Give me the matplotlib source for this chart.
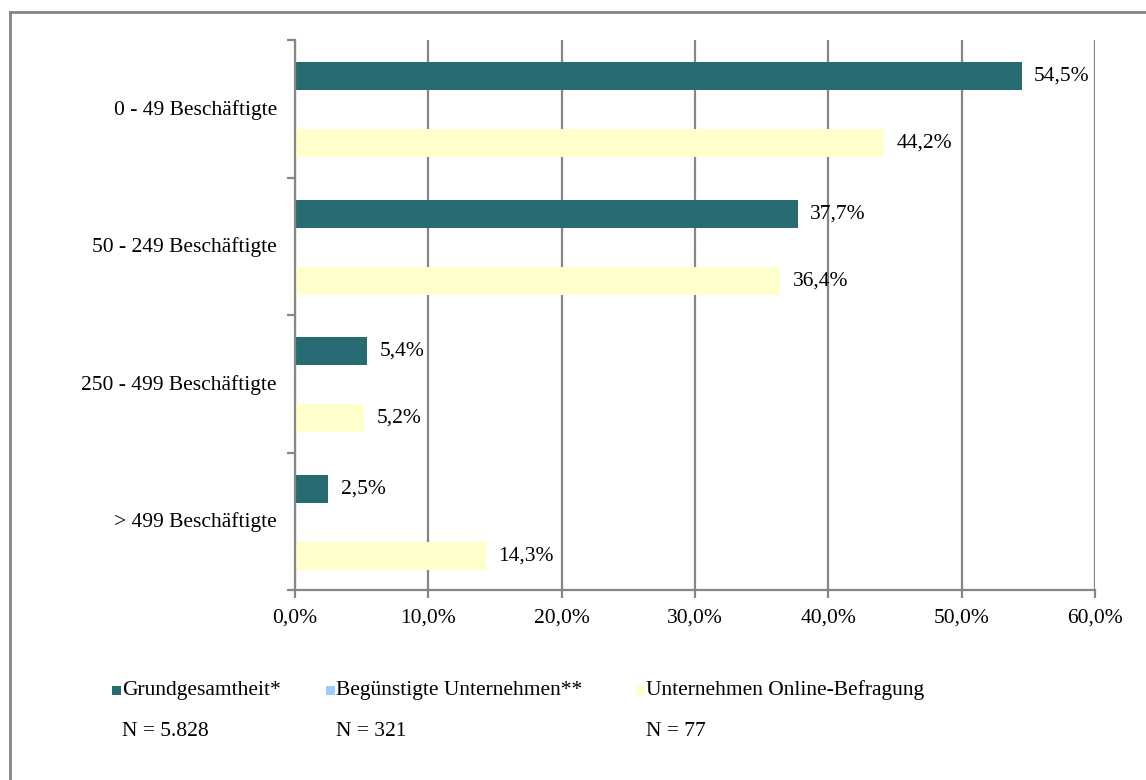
import matplotlib
matplotlib.use("Agg")
import matplotlib.pyplot as plt
from matplotlib.patches import Rectangle
from matplotlib.ticker import MultipleLocator, FuncFormatter, FixedLocator

plt.rcParams['font.family'] = ['Liberation Serif', 'DejaVu Serif']

categories = ["0 - 49 Beschäftigte", "50 - 249 Beschäftigte",
              "250 - 499 Beschäftigte", "> 499 Beschäftigte"]
grundgesamtheit = [54.5, 37.7, 5.4, 2.5]
online_befragung = [44.2, 36.4, 5.2, 14.3]

series_names = ["Grundgesamtheit*", "Begünstigte Unternehmen**", "Unternehmen Online-Befragung"]
series_n = ["N = 5.828", "N = 321", "N = 77"]
series_colors = ["#276C72", "#99CCFF", "#FFFFCC"]

W, H = 1146, 780
FS = 15.5
fig = plt.figure(figsize=(W / 100, H / 100), dpi=100)
ax = fig.add_axes([295 / W, 1 - 590 / H, 800 / W, 550 / H])

grid_color = "#868686"
bar_h = 0.204
for i in range(len(categories)):
    ax.barh(i + 0.265, grundgesamtheit[i], height=bar_h, color=series_colors[0], zorder=3)
    ax.barh(i + 0.75, online_befragung[i], height=bar_h, color=series_colors[2], zorder=3)
    ax.annotate(f"{grundgesamtheit[i]:.1f}%".replace(".", ","),
                (grundgesamtheit[i], i + 0.265), xytext=(9, 0), textcoords="offset points",
                va="center", ha="left", fontsize=FS, zorder=4)
    ax.annotate(f"{online_befragung[i]:.1f}%".replace(".", ","),
                (online_befragung[i], i + 0.75), xytext=(9, 0), textcoords="offset points",
                va="center", ha="left", fontsize=FS, zorder=4)

ax.set_xlim(0, 60)
ax.set_ylim(4, 0)
ax.xaxis.set_major_locator(MultipleLocator(10))
ax.xaxis.set_major_formatter(FuncFormatter(lambda v, p: f"{v:.1f}%".replace(".", ",")))
ax.grid(axis="x", color=grid_color, linewidth=1.6, zorder=0)

ax.yaxis.set_major_locator(FixedLocator([0, 1, 2, 3, 4]))
ax.yaxis.set_major_formatter(FuncFormatter(lambda v, p: ""))
ax.yaxis.set_minor_locator(FixedLocator([0.49 + i for i in range(len(categories))]))
ax.set_yticklabels(categories, minor=True)
ax.tick_params(axis="y", which="minor", length=0, pad=13, labelsize=FS)
ax.tick_params(axis="y", which="major", length=6, width=1.6, color=grid_color, direction="out")
ax.tick_params(axis="x", length=6, width=1.6, color=grid_color, direction="out", pad=7, labelsize=FS)

for side in ("top", "right"):
    ax.spines[side].set_visible(False)
for side in ("left", "bottom"):
    ax.spines[side].set_color(grid_color)
    ax.spines[side].set_linewidth(1.6)
    ax.spines[side].set_zorder(5)

# outer frame: top and left edges
fig.add_artist(plt.Line2D([10 / W, 10 / W], [0, 1 - 12 / H], transform=fig.transFigure,
                          color=grid_color, linewidth=2))
fig.add_artist(plt.Line2D([10 / W, 1], [1 - 12 / H, 1 - 12 / H], transform=fig.transFigure,
                          color=grid_color, linewidth=2))

# legend with sample counts
legend_x = [112, 326, 636]
for x, name, n, col in zip(legend_x, series_names, series_n, series_colors):
    fig.add_artist(Rectangle((x / W, 1 - 695 / H), 9 / W, 9 / H, transform=fig.transFigure,
                             facecolor=col, edgecolor="none"))
    fig.text((x + 10) / W, 1 - 690 / H, name, fontsize=FS, va="center", ha="left")
    fig.text((x + 10) / W, 1 - 732 / H, n, fontsize=FS, va="center", ha="left")

fig.savefig("out.png", dpi=100)
